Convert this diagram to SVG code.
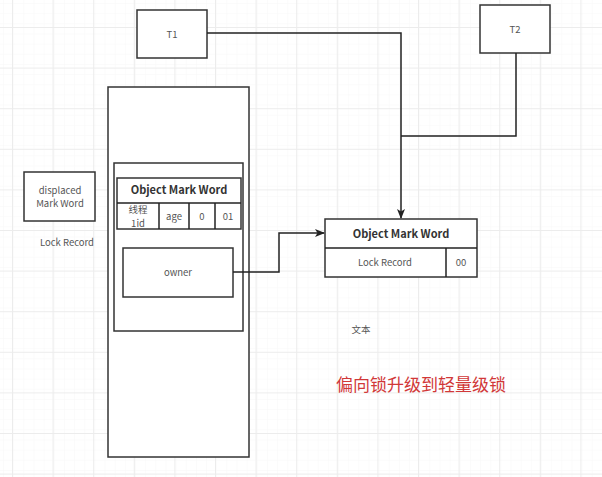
<svg xmlns="http://www.w3.org/2000/svg" width="602" height="477" viewBox="0 0 602 477">
<defs>
<pattern id="minor" x="4" y="4" width="10.15" height="10.15" patternUnits="userSpaceOnUse">
<path d="M10.15 0V10.15M0 10.15H10.15" fill="none" stroke="#f7f7f7" stroke-width="1"/>
</pattern>
<pattern id="major" x="12" y="27" width="40.6" height="40.6" patternUnits="userSpaceOnUse">
<path d="M0.5 0V40.6M0 0.5H40.6" fill="none" stroke="#ececec" stroke-width="1"/>
</pattern>
<marker id="arr" markerWidth="10" markerHeight="8" refX="9" refY="4" orient="auto" markerUnits="userSpaceOnUse">
<path d="M0 0L10 4L0 8L2.5 4Z" fill="#222"/>
</marker>
</defs>
<style>
.box{fill:#fff;stroke:#333;stroke-width:1.5}
.t{font-family:"Microsoft YaHei","Noto Sans CJK SC","Liberation Sans",sans-serif;font-size:9.5px;fill:#555;text-anchor:middle}
.h{font-family:"Microsoft YaHei","Noto Sans CJK SC","Liberation Sans",sans-serif;font-size:11px;font-weight:bold;fill:#333;text-anchor:middle}
.ln{fill:none;stroke:#222;stroke-width:1.5}
</style>
<rect width="602" height="477" fill="#fff"/>
<rect width="602" height="477" fill="url(#minor)"/>
<rect width="602" height="477" fill="url(#major)"/>

<g id="T1"><rect class="box" x="137" y="10" width="70" height="48"/><text class="t" x="172" y="38">T1</text></g>
<g id="T2"><rect class="box" x="480" y="5" width="70" height="48"/><text class="t" x="515" y="33">T2</text></g>

<g id="stack">
<rect class="box" x="108" y="87" width="141" height="370"/>
<rect class="box" x="114" y="163" width="129" height="168"/>
</g>
<g id="markword-left">
<rect class="box" x="117" y="178" width="124" height="51"/>
<line class="ln" x1="117" y1="203" x2="241" y2="203"/>
<line class="ln" x1="159" y1="203" x2="159" y2="229"/>
<line class="ln" x1="189" y1="203" x2="189" y2="229"/>
<line class="ln" x1="215" y1="203" x2="215" y2="229"/>
<text class="h" x="179" y="194">Object Mark Word</text>
<text class="t" x="138" y="213" font-size="8">线程</text>
<text class="t" x="138" y="226.5" font-size="8">1id</text>
<text class="t" x="174" y="220">age</text>
<text class="t" x="202" y="220">0</text>
<text class="t" x="228" y="220">01</text>
</g>
<g id="owner"><rect class="box" x="123" y="248" width="110" height="49"/><text class="t" x="178" y="276">owner</text></g>

<g id="displaced">
<rect class="box" x="24" y="172" width="71" height="49"/>
<text class="t" x="60" y="194">displaced</text>
<text class="t" x="60" y="207">Mark Word</text>
<text class="t" x="67" y="246">Lock Record</text>
</g>

<g id="markword-right">
<rect class="box" x="325" y="219" width="152" height="58"/>
<line class="ln" x1="325" y1="248" x2="477" y2="248"/>
<line class="ln" x1="446" y1="248" x2="446" y2="277"/>
<text class="h" x="401" y="238">Object Mark Word</text>
<text class="t" x="385" y="266">Lock Record</text>
<text class="t" x="461" y="266">00</text>
</g>

<g id="connectors">
<path class="ln" d="M207 33H401V218" marker-end="url(#arr)"/>
<path class="ln" d="M516 53V136H401"/>
<path class="ln" d="M233 272H279V233H324" marker-end="url(#arr)"/>
</g>

<g id="labels">
<text class="t" x="361" y="333">文本</text>
<text x="421" y="391" font-family="Microsoft YaHei,'Noto Sans CJK SC',sans-serif" font-size="17" fill="#d13838" text-anchor="middle">偏向锁升级到轻量级锁</text>
</g>
</svg>
